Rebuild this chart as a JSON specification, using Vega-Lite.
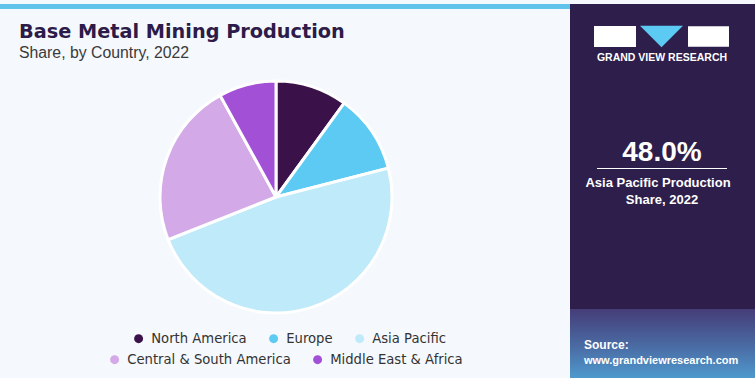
{
  "$schema": "https://vega.github.io/schema/vega-lite/v6.json",
  "background": "#f5f8fc",
  "padding": 0,
  "spacing": 0,
  "config": {
    "font": "Liberation Sans",
    "view": {"stroke": null},
    "legend": {
      "title": null,
      "orient": "none",
      "direction": "horizontal",
      "symbolType": "circle",
      "symbolSize": 80,
      "symbolStrokeWidth": 0,
      "symbolOpacity": 1,
      "labelFontSize": 13.2,
      "labelColor": "#333333",
      "labelFont": "DejaVu Sans",
      "labelOffset": 6,
      "labelLimit": 300,
      "columnPadding": 20,
      "padding": 0
    }
  },
  "resolve": {"legend": {"color": "independent", "fill": "independent"}, "scale": {"color": "independent", "fill": "independent"}},
  "hconcat": [
    {
      "spacing": 10,
      "resolve": {"legend": {"color": "independent", "fill": "independent"}, "scale": {"color": "independent", "fill": "independent"}},
      "vconcat": [
        {
          "width": 570,
          "height": 5,
          "view": {"fill": "#62c3ea", "stroke": null},
          "data": {"values": [{"t": ""}]},
          "mark": {"type": "text"},
          "encoding": {"text": {"field": "t"}}
        },
        {
          "width": 552,
          "height": 252,
          "title": {
            "text": "Base Metal Mining Production",
            "subtitle": "Share, by Country, 2022",
            "anchor": "start",
            "frame": "group",
            "dx": 19,
            "font": "DejaVu Sans",
            "fontSize": 19.3,
            "fontWeight": "bold",
            "color": "#2d1b49",
            "subtitleFont": "Liberation Sans",
            "subtitleFontSize": 15.8,
            "subtitleColor": "#3a3a3a",
            "subtitlePadding": 4,
            "offset": 10
          },
          "data": {
            "values": [
              {"region": "North America", "share": 10.0, "ord": 1},
              {"region": "Europe", "share": 11.0, "ord": 2},
              {"region": "Asia Pacific", "share": 48.0, "ord": 3},
              {"region": "Central & South America", "share": 23.0, "ord": 4},
              {"region": "Middle East & Africa", "share": 8.0, "ord": 5}
            ]
          },
          "layer": [
            {
              "mark": {"type": "arc", "outerRadius": 116, "stroke": "#ffffff", "strokeWidth": 3},
              "encoding": {
                "theta": {"field": "share", "type": "quantitative", "stack": true},
                "order": {"field": "ord", "type": "quantitative"},
                "color": {
                  "field": "region",
                  "type": "nominal",
                  "sort": null,
                  "scale": {
                    "domain": ["North America", "Europe", "Asia Pacific", "Central & South America", "Middle East & Africa"],
                    "range": ["#3b1149", "#5ccaf2", "#bfeaf9", "#d4a9e8", "#a250d6"]
                  },
                  "legend": {
                    "values": ["North America", "Europe", "Asia Pacific"],
                    "legendX": 132,
                    "legendY": 261
                  }
                }
              }
            },
            {
              "transform": [{"filter": "datum.ord >= 4"}],
              "mark": {"type": "point", "filled": true, "opacity": 0, "size": 1},
              "encoding": {
                "fill": {
                  "field": "region",
                  "type": "nominal",
                  "sort": null,
                  "scale": {
                    "domain": ["Central & South America", "Middle East & Africa"],
                    "range": ["#d4a9e8", "#a250d6"]
                  },
                  "legend": {
                    "legendX": 108,
                    "legendY": 282
                  }
                }
              }
            }
          ]
        }
      ]
    },
    {
      "width": 185,
      "height": 378,
      "view": {"stroke": null, "fill": "#2e1e4b"},
      "layer": [
        {
          "data": {"values": [{"k": "grid"}]},
          "mark": {
            "type": "rect",
            "color": {
              "gradient": "linear",
              "x1": 0, "y1": 0, "x2": 0, "y2": 1,
              "stops": [
                {"offset": 0, "color": "#453d78"},
                {"offset": 0.5, "color": "#4a6aa3"},
                {"offset": 1, "color": "#4f9fd2"}
              ]
            }
          },
          "encoding": {"x": {"value": 0}, "x2": {"value": 185}, "y": {"value": 305}, "y2": {"value": 378}}
        },
        {
          "data": {"values": [{"t": "GRAND VIEW RESEARCH"}]},
          "mark": {"type": "text", "color": "#ffffff", "fontWeight": "bold", "fontSize": 10.5, "align": "center", "baseline": "alphabetic"},
          "encoding": {"text": {"field": "t"}, "x": {"value": 92}, "y": {"value": 57}}
        },
        {
          "data": {"values": [{"k": "left"}]},
          "mark": {"type": "point", "filled": true, "opacity": 1, "color": "#ffffff", "shape": "M-1,-0.5H1V0.5H-1Z", "size": 1764},
          "encoding": {"x": {"value": 45}, "y": {"value": 32.5}}
        },
        {
          "data": {"values": [{"k": "mid"}]},
          "mark": {"type": "point", "filled": true, "opacity": 1, "color": "#5ccaf2", "shape": "M-1,-0.5H1L0,0.5Z", "size": 1849},
          "encoding": {"x": {"value": 91.5}, "y": {"value": 32.5}}
        },
        {
          "data": {"values": [{"k": "right"}]},
          "mark": {"type": "point", "filled": true, "opacity": 1, "color": "#ffffff", "shape": "M-1,-0.5H1V0.5H-1Z", "size": 1681},
          "encoding": {"x": {"value": 138.5}, "y": {"value": 32.5}}
        },
        {
          "data": {"values": [{"t": "48.0%"}]},
          "mark": {"type": "text", "color": "#ffffff", "fontWeight": "bold", "fontSize": 28, "align": "center", "baseline": "alphabetic"},
          "encoding": {"text": {"field": "t"}, "x": {"value": 92}, "y": {"value": 157}}
        },
        {
          "data": {"values": [{"k": "line"}]},
          "mark": {"type": "rule", "color": "#ffffff", "strokeWidth": 1},
          "encoding": {"x": {"value": 27}, "x2": {"value": 157}, "y": {"value": 164.5}}
        },
        {
          "data": {"values": [{"t": "Asia Pacific Production"}]},
          "mark": {"type": "text", "color": "#ffffff", "fontWeight": "bold", "fontSize": 13, "align": "center", "baseline": "alphabetic"},
          "encoding": {"text": {"field": "t"}, "x": {"value": 88}, "y": {"value": 183}}
        },
        {
          "data": {"values": [{"t": "Share, 2022"}]},
          "mark": {"type": "text", "color": "#ffffff", "fontWeight": "bold", "fontSize": 13, "align": "center", "baseline": "alphabetic"},
          "encoding": {"text": {"field": "t"}, "x": {"value": 92}, "y": {"value": 199.5}}
        },
        {
          "data": {"values": [{"t": "Source:"}]},
          "mark": {"type": "text", "color": "#ffffff", "fontWeight": "bold", "fontSize": 12, "align": "left", "baseline": "alphabetic"},
          "encoding": {"text": {"field": "t"}, "x": {"value": 14}, "y": {"value": 345}}
        },
        {
          "data": {"values": [{"t": "www.grandviewresearch.com"}]},
          "mark": {"type": "text", "color": "#ffffff", "fontWeight": "bold", "fontSize": 11, "align": "left", "baseline": "alphabetic"},
          "encoding": {"text": {"field": "t"}, "x": {"value": 14}, "y": {"value": 360}}
        }
      ]
    }
  ]
}
